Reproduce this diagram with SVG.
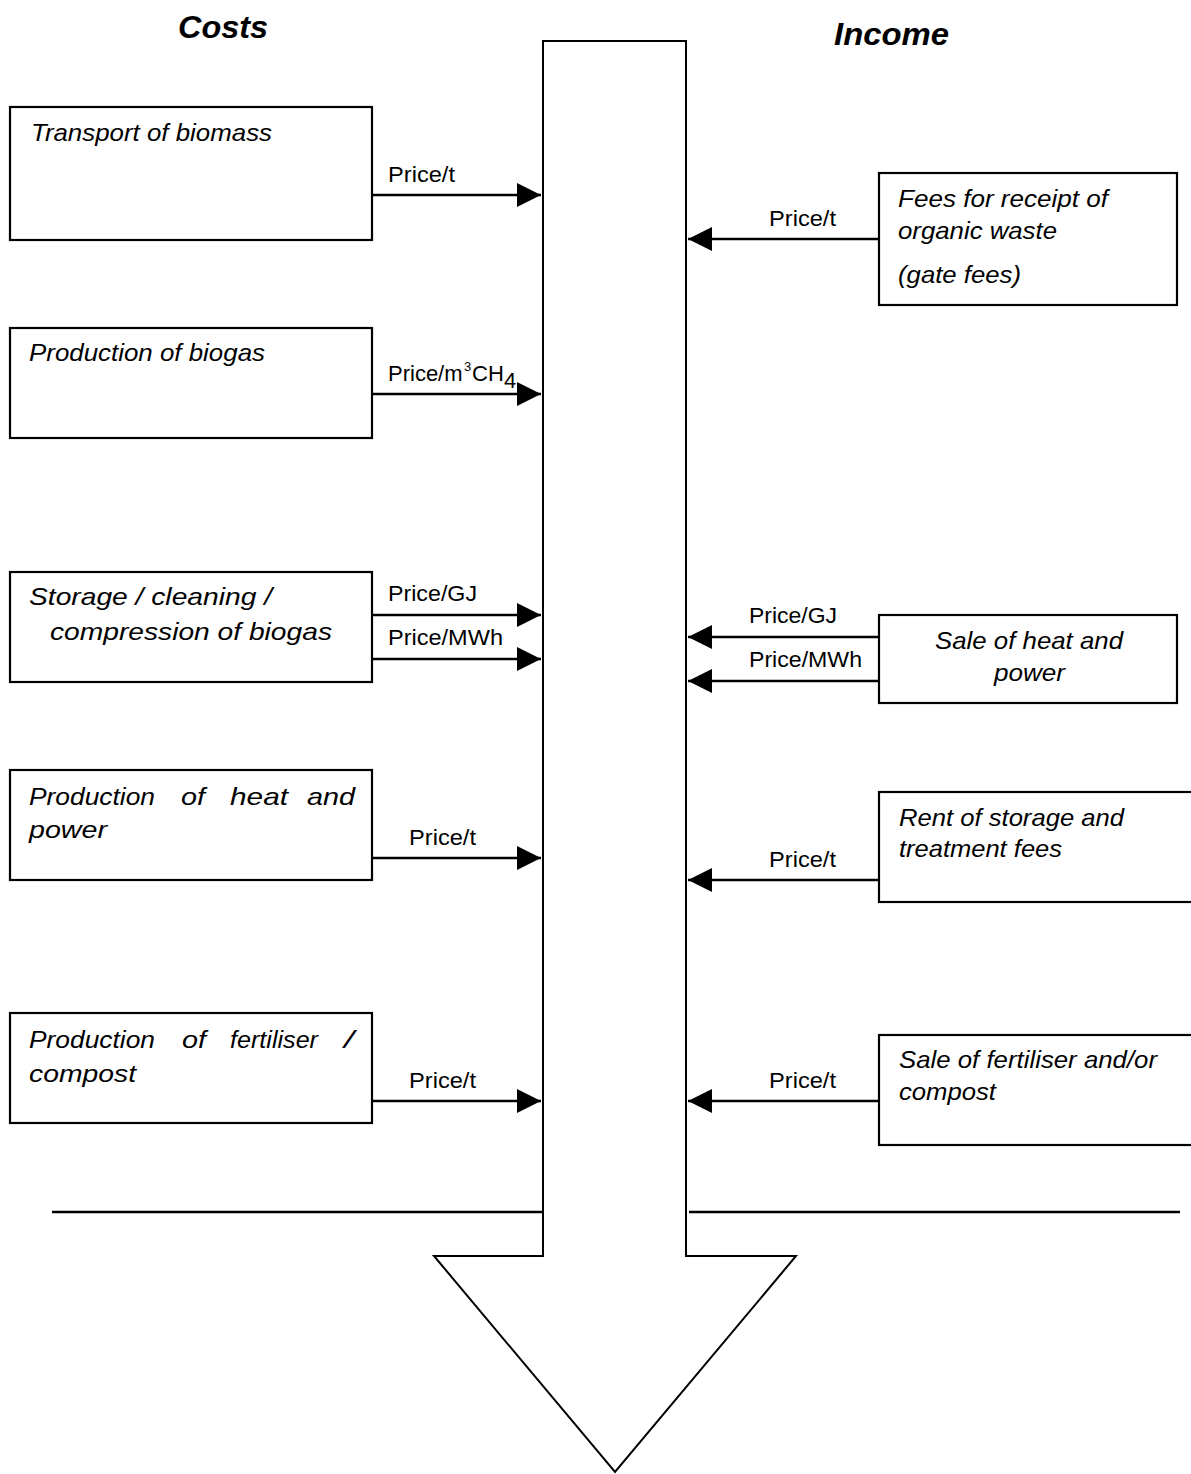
<svg xmlns="http://www.w3.org/2000/svg" width="1191" height="1474" viewBox="0 0 1191 1474">
<style>
.box{fill:#fff;stroke:#000;stroke-width:2.2}
.bt{font-family:"Liberation Sans",Arial,sans-serif;font-style:italic;font-size:24px;fill:#000}
.lb{font-family:"Liberation Sans",Arial,sans-serif;font-size:22px;fill:#000}
.sm{font-family:"Liberation Sans",Arial,sans-serif;font-size:13px;fill:#000}
.hd{font-family:"Liberation Sans",Arial,sans-serif;font-style:italic;font-weight:bold;font-size:31px;fill:#000}
.ar{stroke:#000;stroke-width:2.6;fill:none;marker-end:url(#ah)}
.ln{stroke:#000;stroke-width:2.4}
</style>
<defs>
<marker id="ah" markerUnits="userSpaceOnUse" markerWidth="25" markerHeight="26" refX="24" refY="12" orient="auto" viewBox="0 0 25 26">
<path d="M0,0 L24,12 L0,24 Z" fill="#000"/>
</marker>
</defs>
<rect width="1191" height="1474" fill="#fff"/>

<g id="headers">
<text class="hd" x="178" y="38" textLength="90" lengthAdjust="spacingAndGlyphs">Costs</text>
<text class="hd" x="834" y="45" textLength="115" lengthAdjust="spacingAndGlyphs">Income</text>
</g>

<g id="main-arrow">
<polygon points="543,41 686,41 686,1256 796,1256 615,1472 434,1256 543,1256" fill="#fff" stroke="#000" stroke-width="2"/>
</g>

<g id="baseline">
<line class="ln" x1="52" y1="1212" x2="542" y2="1212"/>
<line class="ln" x1="689" y1="1212" x2="1180" y2="1212"/>
</g>

<g id="connectors">
<line class="ar" x1="372" y1="195" x2="541" y2="195"/>
<line class="ar" x1="372" y1="394" x2="541" y2="394"/>
<line class="ar" x1="372" y1="615" x2="541" y2="615"/>
<line class="ar" x1="372" y1="659" x2="541" y2="659"/>
<line class="ar" x1="372" y1="858" x2="541" y2="858"/>
<line class="ar" x1="372" y1="1101" x2="541" y2="1101"/>
<line class="ar" x1="879" y1="239" x2="688" y2="239"/>
<line class="ar" x1="879" y1="637" x2="688" y2="637"/>
<line class="ar" x1="879" y1="681" x2="688" y2="681"/>
<line class="ar" x1="879" y1="880" x2="688" y2="880"/>
<line class="ar" x1="879" y1="1101" x2="688" y2="1101"/>
<text class="lb" x="388" y="182" textLength="67" lengthAdjust="spacingAndGlyphs">Price/t</text>
<text class="lb" x="388" y="381">Price/m</text>
<text class="sm" x="464" y="371">3</text>
<text class="lb" x="472" y="381">CH</text>
<text class="lb" x="504" y="388" font-size="15">4</text>
<text class="lb" x="388" y="601" textLength="89" lengthAdjust="spacingAndGlyphs">Price/GJ</text>
<text class="lb" x="388" y="645" textLength="115" lengthAdjust="spacingAndGlyphs">Price/MWh</text>
<text class="lb" x="409" y="845" textLength="67" lengthAdjust="spacingAndGlyphs">Price/t</text>
<text class="lb" x="409" y="1088" textLength="67" lengthAdjust="spacingAndGlyphs">Price/t</text>
<text class="lb" x="769" y="226" textLength="67" lengthAdjust="spacingAndGlyphs">Price/t</text>
<text class="lb" x="749" y="623" textLength="88" lengthAdjust="spacingAndGlyphs">Price/GJ</text>
<text class="lb" x="749" y="667" textLength="113" lengthAdjust="spacingAndGlyphs">Price/MWh</text>
<text class="lb" x="769" y="867" textLength="67" lengthAdjust="spacingAndGlyphs">Price/t</text>
<text class="lb" x="769" y="1088" textLength="67" lengthAdjust="spacingAndGlyphs">Price/t</text>
</g>

<g id="transport">
<rect class="box" x="10" y="107" width="362" height="133"/>
<text class="bt" x="31" y="141" textLength="241" lengthAdjust="spacingAndGlyphs">Transport of biomass</text>
</g>

<g id="biogas">
<rect class="box" x="10" y="328" width="362" height="110"/>
<text class="bt" x="29" y="361" textLength="236" lengthAdjust="spacingAndGlyphs">Production of biogas</text>
</g>

<g id="storage">
<rect class="box" x="10" y="572" width="362" height="110"/>
<text class="bt" x="29" y="605" textLength="243" lengthAdjust="spacingAndGlyphs">Storage / cleaning /</text>
<text class="bt" x="50" y="640" textLength="282" lengthAdjust="spacingAndGlyphs">compression of biogas</text>
</g>

<g id="heat-power">
<rect class="box" x="10" y="770" width="362" height="110"/>
<text class="bt" x="29" y="805" textLength="126" lengthAdjust="spacingAndGlyphs">Production</text>
<text class="bt" x="181" y="805" textLength="24" lengthAdjust="spacingAndGlyphs">of</text>
<text class="bt" x="230" y="805" textLength="58" lengthAdjust="spacingAndGlyphs">heat</text>
<text class="bt" x="307" y="805" textLength="48" lengthAdjust="spacingAndGlyphs">and</text>
<text class="bt" x="29" y="838" textLength="78" lengthAdjust="spacingAndGlyphs">power</text>
</g>

<g id="fertiliser">
<rect class="box" x="10" y="1013" width="362" height="110"/>
<text class="bt" x="29" y="1048" textLength="126" lengthAdjust="spacingAndGlyphs">Production</text>
<text class="bt" x="182" y="1048" textLength="24" lengthAdjust="spacingAndGlyphs">of</text>
<text class="bt" x="230" y="1048" textLength="88" lengthAdjust="spacingAndGlyphs">fertiliser</text>
<text class="bt" x="344" y="1048" textLength="10" lengthAdjust="spacingAndGlyphs">/</text>
<text class="bt" x="29" y="1082" textLength="107" lengthAdjust="spacingAndGlyphs">compost</text>
</g>

<g id="gate-fees">
<rect class="box" x="879" y="173" width="298" height="132"/>
<text class="bt" x="898" y="207" textLength="210" lengthAdjust="spacingAndGlyphs">Fees for receipt of</text>
<text class="bt" x="898" y="239" textLength="159" lengthAdjust="spacingAndGlyphs">organic waste</text>
<text class="bt" x="898" y="283" textLength="123" lengthAdjust="spacingAndGlyphs">(gate fees)</text>
</g>

<g id="sale-heat">
<rect class="box" x="879" y="615" width="298" height="88"/>
<text class="bt" x="935" y="649" textLength="188" lengthAdjust="spacingAndGlyphs">Sale of heat and</text>
<text class="bt" x="994" y="681" textLength="71" lengthAdjust="spacingAndGlyphs">power</text>
</g>

<g id="rent">
<rect class="box" x="879" y="792" width="320" height="110"/>
<text class="bt" x="899" y="826" textLength="225" lengthAdjust="spacingAndGlyphs">Rent of storage and</text>
<text class="bt" x="899" y="857" textLength="163" lengthAdjust="spacingAndGlyphs">treatment fees</text>
</g>

<g id="sale-fertiliser">
<rect class="box" x="879" y="1035" width="320" height="110"/>
<text class="bt" x="899" y="1068" textLength="258" lengthAdjust="spacingAndGlyphs">Sale of fertiliser and/or</text>
<text class="bt" x="899" y="1100" textLength="97" lengthAdjust="spacingAndGlyphs">compost</text>
</g>
</svg>
